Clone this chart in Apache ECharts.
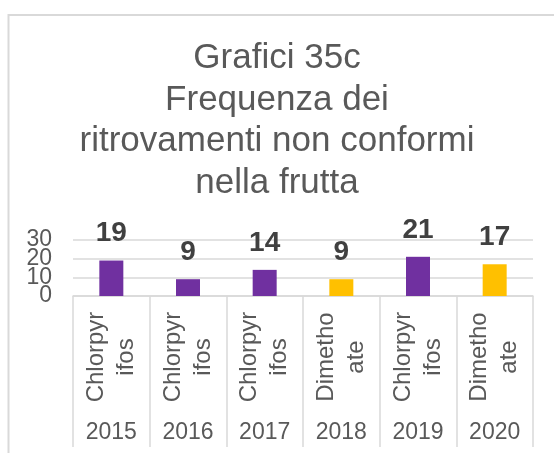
<!DOCTYPE html>
<html>
<head>
<meta charset="utf-8">
<script src="https://cdn.jsdelivr.net/npm/echarts@6/dist/echarts.min.js"></script>
<style>
  html, body { margin: 0; padding: 0; background: #fff; }
  #chart { width: 554px; height: 453px; }
</style>
</head>
<body>
<div id="chart"></div>
<script>
// dati
var sostanze = ['Chlorpyr\nifos', 'Chlorpyr\nifos', 'Chlorpyr\nifos', 'Dimetho\nate', 'Chlorpyr\nifos', 'Dimetho\nate'];
var anni = ['2015', '2016', '2017', '2018', '2019', '2020'];
var valori = [19, 9, 14, 9, 21, 17];
var colori = ['#7030A0', '#7030A0', '#7030A0', '#FFC000', '#7030A0', '#FFC000'];
var yTicks = [0, 10, 20, 30];

var font = '"Liberation Sans", Arial, sans-serif';

var myChart = echarts.init(document.getElementById('chart'));

// le etichette dell'asse y si sovrappongono: le divido su due assi
function yAxisConf(values, showGrid) {
    return {
        type: 'value',
        position: 'left',
        min: yTicks[0],
        max: yTicks[yTicks.length - 1],
        interval: 10,
        axisLine: { show: false },
        axisTick: { show: false },
        splitLine: { show: showGrid, lineStyle: { color: '#d9d9d9', width: 1.5 } },
        axisLabel: {
            margin: 21,
            customValues: values,
            showMinLabel: true,
            showMaxLabel: true,
            hideOverlap: false,
            fontFamily: font,
            fontSize: 23,
            color: '#595959'
        }
    };
}

var option = {
    backgroundColor: '#fff',
    animation: false,
    title: {
        text: 'Grafici 35c\nFrequenza dei\nritrovamenti non conformi\nnella frutta',
        left: 'center',
        top: 33,
        textStyle: {
            fontFamily: font,
            fontSize: 35,
            fontWeight: 'normal',
            lineHeight: 41.5,
            align: 'center',
            color: '#595959'
        }
    },
    graphic: [{
        type: 'rect',
        shape: { x: 8.5, y: 15, width: 700, height: 600 },
        style: { fill: 'none', stroke: '#d9d9d9', lineWidth: 2 },
        silent: true
    }],
    grid: {
        left: 73,
        right: 21,
        top: 240,
        bottom: 157
    },
    xAxis: [{
        type: 'category',
        data: sostanze,
        axisLine: { lineStyle: { color: '#d9d9d9', width: 1.5 } },
        axisTick: { show: true, length: 151, lineStyle: { color: '#d9d9d9', width: 1.5 } },
        axisLabel: {
            rotate: 90,
            align: 'center',
            verticalAlign: 'middle',
            margin: 61,
            interval: 0,
            fontFamily: font,
            fontSize: 24,
            lineHeight: 30,
            color: '#595959'
        }
    }, {
        type: 'category',
        position: 'bottom',
        data: anni,
        axisLine: { show: false },
        axisTick: { show: false },
        axisLabel: {
            margin: 137,
            verticalAlign: 'middle',
            interval: 0,
            fontFamily: font,
            fontSize: 23,
            color: '#595959'
        }
    }],
    yAxis: [
        yAxisConf([yTicks[0], yTicks[2]], true),
        yAxisConf([yTicks[1], yTicks[3]], false)
    ],
    series: [{
        type: 'bar',
        xAxisIndex: 0,
        yAxisIndex: 0,
        barWidth: 24,
        data: valori.map(function (v, i) {
            return { value: v, itemStyle: { color: colori[i] } };
        }),
        label: {
            show: true,
            position: 'top',
            distance: 13,
            fontFamily: font,
            fontSize: 28,
            fontWeight: 'bold',
            color: '#404040'
        }
    }]
};

myChart.setOption(option);
</script>
</body>
</html>
